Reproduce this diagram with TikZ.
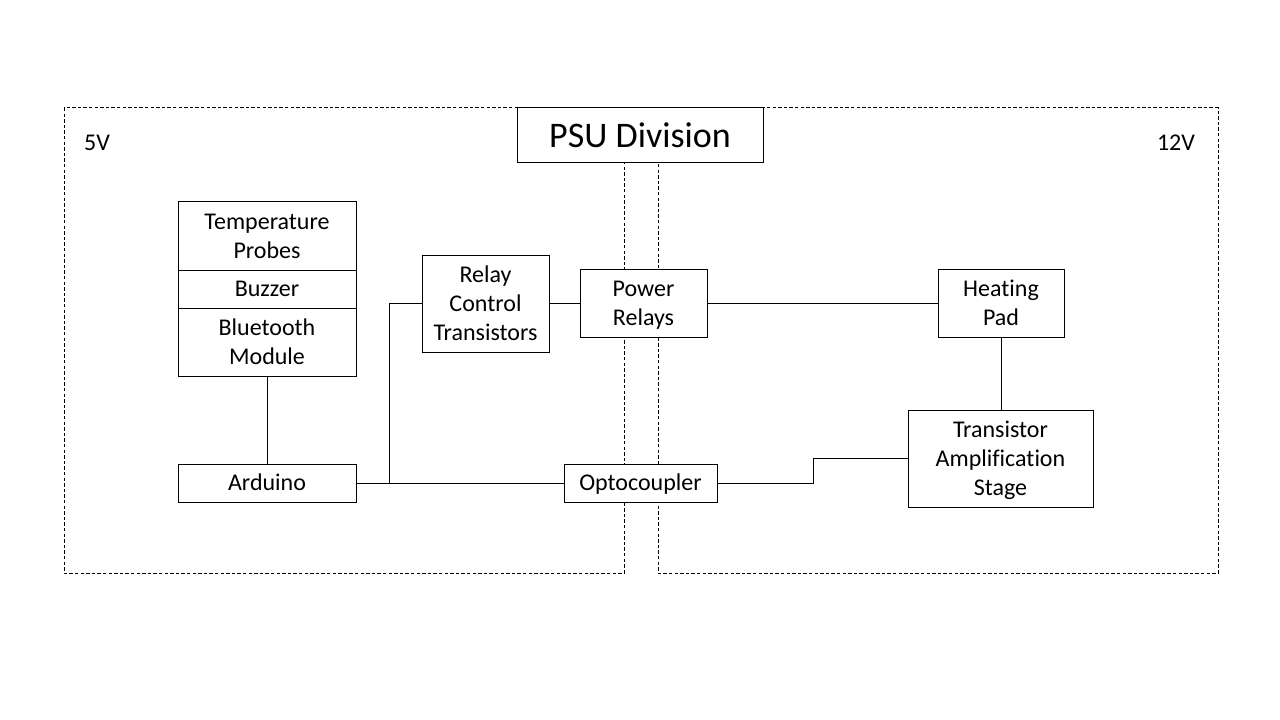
\documentclass[tikz,border=0pt]{standalone}
\usepackage{fontspec}
\setmainfont[Ligatures=NoCommon]{Carlito}
\newcommand\ms{\rule[-5.1pt]{0pt}{21.75pt}}
\begin{document}
\begin{tikzpicture}[x=0.75pt,y=-0.75pt,
  blk/.style={draw=black,line width=0.75pt,fill=white,rectangle,inner sep=0pt,align=center,
    font=\fontsize{18pt}{21.75pt}\selectfont},
  zone/.style={draw=black,line width=0.75pt,dash pattern=on 2.6pt off 1.6pt},
  wire/.style={draw=black,line width=0.75pt},
  lbl/.style={font=\fontsize{18pt}{21.75pt}\selectfont,inner sep=0pt}]
\useasboundingbox (0,0) rectangle (1280,720);
% zones
\draw[zone] (64,108) rectangle (624,573);
\draw[zone] (658,108) rectangle (1218,573);
\node[lbl] (v5) at (97,143) {5V};
\node[lbl] (v12) at (1176,143) {12V};
% PSU
\node[blk,minimum width=184.5pt,minimum height=41.25pt,font=\fontsize{27pt}{32pt}\selectfont] (psu) at (640,135.5) {PSU Division};
% stack
\node[blk,minimum width=133.5pt,minimum height=51pt] (temp) at (267,236) {\ms Temperature\\\ms Probes};
\node[blk,minimum width=133.5pt,minimum height=28.5pt] (buz) at (267,289) {\ms Buzzer};
\node[blk,minimum width=133.5pt,minimum height=51pt] (ble) at (267,342) {\ms Bluetooth\\\ms Module};
\node[blk,minimum width=133.5pt,minimum height=28.5pt] (ard) at (267,483) {\ms Arduino};
\node[blk,minimum width=95.25pt,minimum height=72.75pt] (rct) at (485.5,303.5) {\ms Relay\\\ms Control\\\ms Transistors};
\node[blk,minimum width=95.25pt,minimum height=51pt] (pr) at (643.5,303) {\ms Power\\\ms Relays};
\node[blk,minimum width=94.5pt,minimum height=51pt] (hp) at (1001,303) {\ms Heating\\\ms Pad};
\node[blk,minimum width=138.75pt,minimum height=72.75pt] (tas) at (1000.5,458.5) {\ms Transistor\\\ms Amplification\\\ms Stage};
\node[blk,minimum width=114.75pt,minimum height=28.5pt] (opto) at (640.5,483) {\ms Optocoupler};
% connectors
\coordinate (br) at (389,483);
\coordinate (stp) at (813,483);
\draw[wire] (ble.south) -- (ard.north);
\draw[wire] (ard.east) -- (opto.west);
\draw[wire] (br) |- (rct.west);
\draw[wire] (rct.east) -- (rct.east -| pr.west);
\draw[wire] (pr.east) -- (hp.west);
\draw[wire] (hp.south) -- (hp.south |- tas.north);
\draw[wire] (opto.east) -- (stp) |- (tas.west);
\end{tikzpicture}
\end{document}
